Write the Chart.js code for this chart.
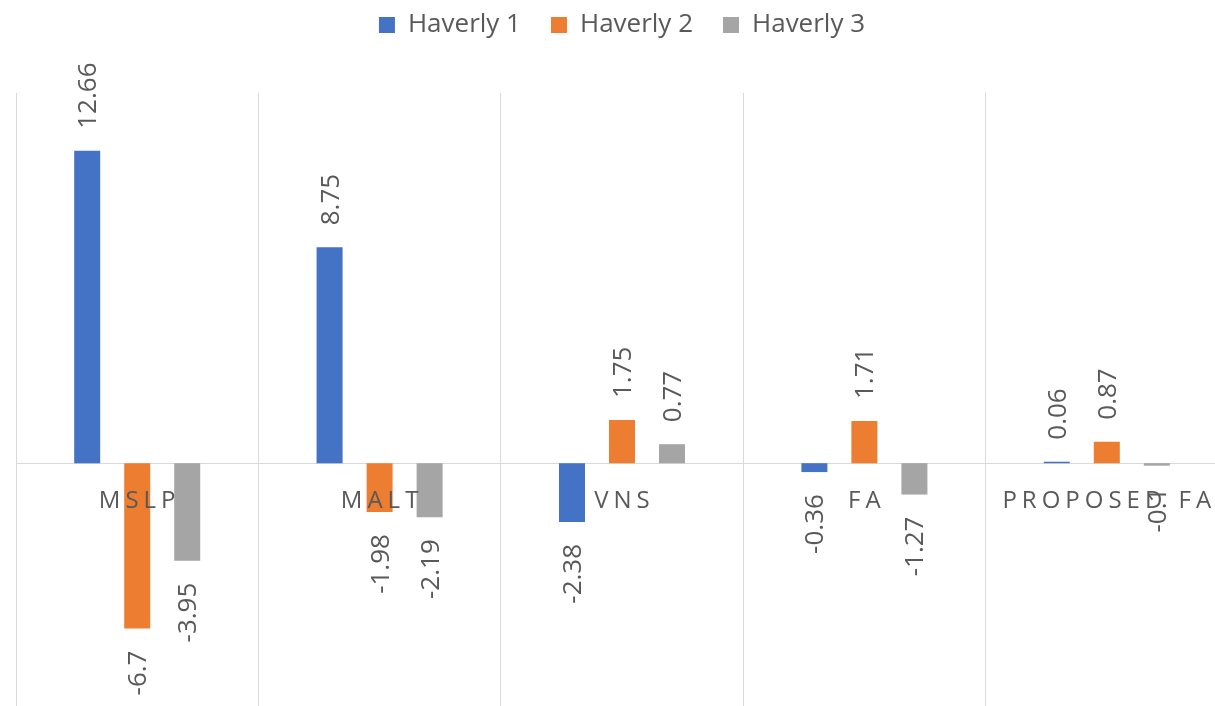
<!DOCTYPE html>
<html>
<head>
<meta charset="utf-8">
<script src="https://cdn.jsdelivr.net/npm/chart.js@4"></script>
<style>
  html, body { margin: 0; padding: 0; overflow: hidden; background: #fff; }
  #wrap { position: relative; width: 1230px; height: 710px; }
</style>
</head>
<body>
<div id="wrap"><canvas id="myChart"></canvas></div>
<script>
const categorias = ["MSLP", "MALT", "VNS", "FA", "PROPOSED FA"];
const haverly1 = [12.66, 8.75, -2.38, -0.36, 0.06];
const haverly2 = [-6.7, -1.98, 1.75, 1.71, 0.87];
const haverly3 = [-3.95, -2.19, 0.77, -1.27, -0.1];

const textColor = "#595959"
const gridColor = "#D9D9D9"

// legend needs more room below it
const legendMargin = {
  id: 'legendMargin',
  beforeInit(chart) {
    const fit = chart.legend.fit;
    chart.legend.fit = function () {
      fit.bind(chart.legend)();
      this.height += 45;
    }
  }
}

// category names sit just under the zero line, spaced out like excel
const catLabels = {
  id: 'catLabels',
  afterDatasetsDraw(chart) {
    const ctx = chart.ctx;
    const x = chart.scales.x;
    const y0 = chart.scales.y.getPixelForValue(0);
    ctx.save();
    ctx.font = "24px 'Open Sans'";
    ctx.fillStyle = textColor;
    ctx.letterSpacing = "5px";
    ctx.textAlign = "center";
    ctx.textBaseline = "alphabetic";
    categorias.forEach((c, i) => {
      ctx.fillText(c, x.getPixelForValue(i) + 2.5, y0 + 45);
    });
    ctx.restore();
  }
}

// rotated value labels at the bar ends
const valueLabels = {
  id: 'valueLabels',
  afterDatasetsDraw(chart) {
    const ctx = chart.ctx;
    ctx.save();
    ctx.font = "26px 'Open Sans'";
    ctx.fillStyle = textColor;
    ctx.textBaseline = "alphabetic";
    chart.data.datasets.forEach((ds, d) => {
      const meta = chart.getDatasetMeta(d);
      meta.data.forEach((bar, i) => {
        const v = ds.data[i];
        ctx.save();
        if (v >= 0) {
          ctx.translate(bar.x + 9, bar.y - 22);
          ctx.rotate(-Math.PI / 2);
          ctx.textAlign = "left";
        } else {
          ctx.translate(bar.x + 9, bar.y + 22);
          ctx.rotate(-Math.PI / 2);
          ctx.textAlign = "right";
        }
        ctx.fillText(String(v), 0, 0);
        ctx.restore();
      });
    });
    ctx.restore();
  }
}

const myChart = new Chart("myChart", {
  type: 'bar',
  data: {
    labels: categorias,
    datasets: [{
      label: 'Haverly 1',
      data: haverly1,
      backgroundColor: "#4472C4",
    }, {
      label: 'Haverly 2',
      data: haverly2,
      backgroundColor: "#ED7D31",
    }, {
      label: 'Haverly 3',
      data: haverly3,
      backgroundColor: "#A5A5A5",
    }]
  },
  options: {
    responsive: true,
    maintainAspectRatio: false,
    animation: false,
    categoryPercentage: 0.619,
    barPercentage: 0.52,
    layout: {
      padding: {left: 16, right: 2, top: -18, bottom: 0}
    },
    scales: {
      x: {
        position: {y: 0},
        ticks: {display: false},
        grid: {color: gridColor, drawTicks: false, offset: true},
        border: {color: gridColor}
      },
      y: {
        display: false,
        min: -10,
        max: 15
      }
    },
    plugins: {
      legend: {
        position: 'top',
        labels: {
          boxWidth: 16,
          boxHeight: 16,
          padding: 30,
          color: textColor,
          font: {family: "'Open Sans'", size: 26}
        }
      },
      tooltip: {enabled: false}
    }
  },
  plugins: [legendMargin, catLabels, valueLabels]
});
</script>
</body>
</html>
